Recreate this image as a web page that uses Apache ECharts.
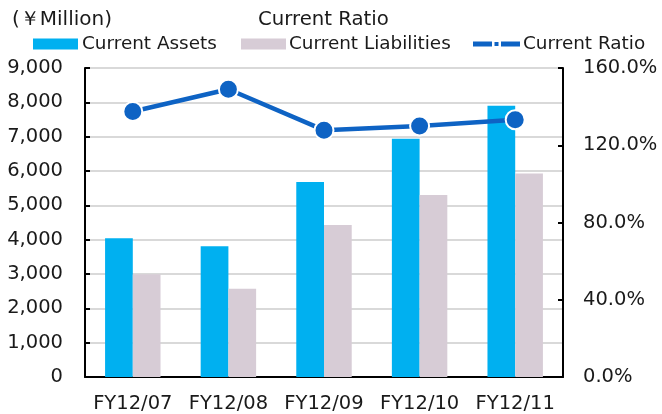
<!DOCTYPE html>
<html>
<head>
<meta charset="utf-8">
<script src="https://cdn.jsdelivr.net/npm/echarts@6/dist/echarts.min.js"></script>
<style>
  html, body { margin: 0; padding: 0; background: #fff; }
  #chart { width: 662px; height: 414px; }
</style>
</head>
<body>
<div id="chart"></div>
<script>
const categories = ['FY12/07', 'FY12/08', 'FY12/09', 'FY12/10', 'FY12/11']
const currentAssets = [4040, 3810, 5680, 6940, 7900]
const currentLiabilities = [2990, 2570, 4430, 5300, 5930]
const currentRatio = [1.375, 1.49, 1.278, 1.30, 1.332] // 流動比率

const leftTicks = { min: 0, max: 9000, interval: 1000 }
const rightTicks = { min: 0, max: 1.6, interval: 0.4 }

const font = 'DejaVu Sans'
const textColor = '#1a1a1a'
const axisFont = 19.5
const legendFont = 18.4

// one legend per item so each can sit where the original puts it
function legendAt(left, name, icon, itemWidth, shift, itemStyle) {
  return {
    top: 35,
    left: left,
    padding: 0,
    itemWidth: itemWidth,
    itemHeight: 11,
    data: [{ name: name, icon: icon, itemStyle: itemStyle }],
    textStyle: { fontFamily: font, fontSize: legendFont, color: textColor, padding: [0, 0, 0, shift] }
  }
}

const chart = echarts.init(document.getElementById('chart'))
chart.setOption({
  animation: false,
  textStyle: { fontFamily: font, color: textColor },
  title: [
    {
      text: '(￥Million)',
      left: 12,
      top: 10,
      padding: 0,
      textStyle: { fontFamily: font, fontSize: 20, fontWeight: 'normal', color: textColor }
    },
    {
      text: 'Current Ratio',
      left: 258,
      top: 10,
      padding: 0,
      textStyle: { fontFamily: font, fontSize: 19.7, fontWeight: 'normal', color: textColor }
    }
  ],
  legend: [
    legendAt(33, 'Current Assets', 'rect', 45, -1),
    legendAt(241, 'Current Liabilities', 'rect', 45, -2),
    legendAt(473, 'Current Ratio',
      'path://M0,0 H19 V5 H0 Z M21.5,0.5 H25.5 V4.5 H21.5 Z M28,0 H47 V5 H28 Z', 47, -2,
      { color: '#0e63c4', borderWidth: 0 })
  ],
  grid: { left: 85, right: 99, top: 68, bottom: 36 },
  xAxis: {
    type: 'category',
    data: categories,
    axisLine: { lineStyle: { color: '#000', width: 2 } },
    axisTick: { inside: true, length: 5, lineStyle: { color: '#000', width: 2 } },
    axisLabel: {
      fontFamily: font, fontSize: axisFont, color: textColor, margin: 17,
      interval: 0, hideOverlap: false
    }
  },
  yAxis: [
    {
      type: 'value',
      min: leftTicks.min,
      max: leftTicks.max,
      interval: leftTicks.interval,
      axisLine: { show: true, lineStyle: { color: '#000', width: 2 } },
      axisTick: { show: true, inside: true, length: 5, lineStyle: { color: '#000', width: 2 } },
      axisLabel: {
        fontFamily: font, fontSize: axisFont, color: textColor, margin: 22,
        formatter: v => v.toLocaleString('en-US')
      },
      splitLine: { lineStyle: { color: '#d9d9d9', width: 2 } }
    },
    {
      type: 'value',
      min: rightTicks.min,
      max: rightTicks.max,
      interval: rightTicks.interval,
      axisLine: { show: true, lineStyle: { color: '#000', width: 2 } },
      axisTick: { show: true, inside: true, length: 5, lineStyle: { color: '#000', width: 2 } },
      axisLabel: {
        fontFamily: font, fontSize: axisFont, color: textColor, margin: 20,
        formatter: v => (v * 100).toFixed(1) + '%'
      },
      splitLine: { show: false }
    }
  ],
  series: [
    {
      name: 'Current Assets',
      type: 'bar',
      data: currentAssets,
      barWidth: '29%',
      barGap: '0%',
      itemStyle: { color: '#00b0f0' }
    },
    {
      name: 'Current Liabilities',
      type: 'bar',
      data: currentLiabilities,
      barWidth: '29%',
      itemStyle: { color: '#d7ccd6' }
    },
    {
      name: 'Current Ratio',
      type: 'line',
      yAxisIndex: 1,
      data: currentRatio,
      symbol: 'circle',
      symbolSize: 19,
      lineStyle: { color: '#0e63c4', width: 4.5 },
      itemStyle: { color: '#0e63c4', borderColor: '#fff', borderWidth: 2 }
    }
  ]
})
</script>
</body>
</html>
